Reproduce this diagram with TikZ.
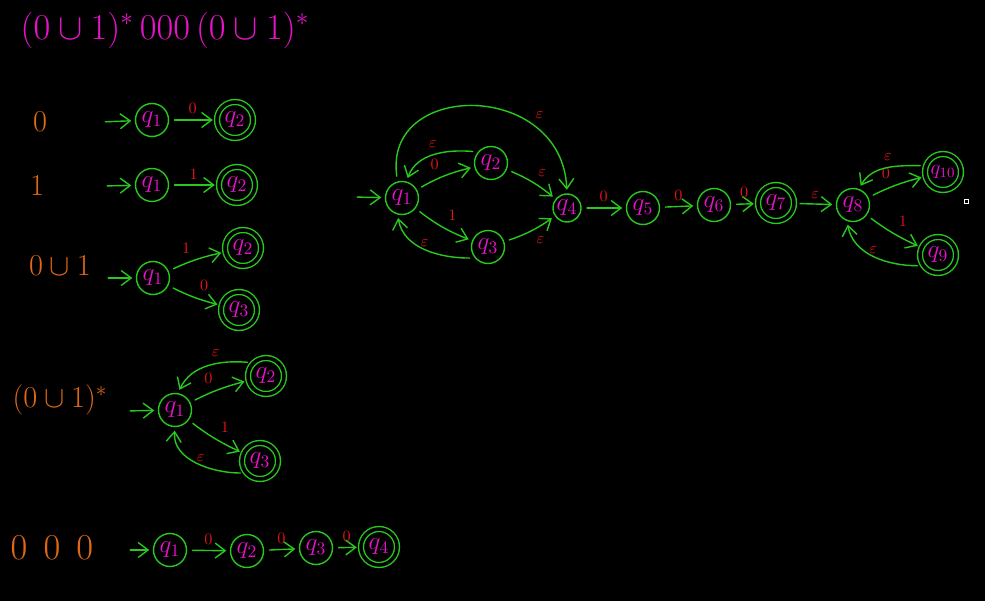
\documentclass[tikz,border=0pt]{standalone}
\usepackage{amsmath,amssymb}
\usepackage{tikz}
\usetikzlibrary{arrows.meta}
\usepackage{xcolor}
\definecolor{inkgreen}{RGB}{40,200,30}
\definecolor{inkpink}{RGB}{230,20,200}
\definecolor{inkred}{RGB}{225,20,20}
\definecolor{inkorange}{RGB}{225,105,20}

\begin{document}
\begin{tikzpicture}[x=0.02cm,y=0.02cm,>={Straight Barb[length=2mm,width=3mm]},line cap=round,
  st/.style={circle,draw=inkgreen,thick,minimum size=0.66cm,inner sep=0pt,text=inkpink,font=\Large},
  acc/.style={st,minimum size=0.72cm,double=black,double distance=2pt},
  ed/.style={->,draw=inkgreen,thick,shorten <=3pt,shorten >=2pt},
  lbl/.style={text=inkred,font=\small,inner sep=3pt},
  expr/.style={text=inkorange,font=\LARGE}]
\fill[black] (0,0) rectangle (985,-601);
\node[text=inkpink,font=\huge] (title) at (165,-30) {$(0\cup1)^{*}\,000\,(0\cup1)^{*}$};
% 0
\node[expr] (ea) at (40,-122) {$0$};
\node[st] (a1) at (152,-120) {$q_1$};
\node[acc] (a2) at (235,-120) {$q_2$};
\coordinate (sa) at (100,-122);
\draw[ed] (sa) -- (a1);
\draw[ed] (a1) -- node[lbl,above] (la) {0} (a2);
% 1
\node[expr] (eb) at (37,-186) {$1$};
\node[st] (b1) at (152,-185) {$q_1$};
\node[acc] (b2) at (237,-185) {$q_2$};
\coordinate (sb) at (102,-186);
\draw[ed] (sb) -- (b1);
\draw[ed] (b1) -- node[lbl,above] (lb) {1} (b2);
% 0 u 1
\node[expr] (ec) at (60,-266) {$0\cup1$};
\node[st] (c1) at (153,-278) {$q_1$};
\node[acc] (c2) at (243,-248) {$q_2$};
\node[acc] (c3) at (239,-310) {$q_3$};
\coordinate (sc) at (103,-278);
\draw[ed] (sc) -- (c1);
\draw[ed] (c1) to[bend left=6] node[lbl,above left] (lc1) {1} (c2);
\draw[ed] (c1) to[bend right=6] node[lbl,above right] (lc2) {0} (c3);
% (0 u 1)*
\node[expr] (ed) at (60,-400) {$(0\cup1)^{*}$};
\node[st] (d1) at (175,-410) {$q_1$};
\node[acc] (d2) at (266,-376) {$q_2$};
\node[acc] (d3) at (260,-461) {$q_3$};
\coordinate (sd) at (125,-411);
\draw[ed] (sd) -- (d1);
\draw[ed] (d1) to[bend left=6] node[lbl,above left] (ld1) {0} (d2);
\draw[ed] (d1) to[bend right=6] node[lbl,above right] (ld2) {1} (d3);
\draw[ed] (d2.135) to[out=175,in=65] node[lbl,above left,pos=0.3] (ld3) {$\varepsilon$} (d1.80);
\draw[ed] (d3.220) to[out=180,in=-95] node[lbl,above left,pos=0.35] (ld4) {$\varepsilon$} (d1.south);
% 000
\node[expr,font=\huge] (ee) at (52,-548) {$0\;\,0\;\,0$};
\node[st] (e1) at (170,-550) {$q_1$};
\node[st] (e2) at (247,-551) {$q_2$};
\node[st] (e3) at (316,-548) {$q_3$};
\node[acc] (e4) at (379,-547) {$q_4$};
\coordinate (se) at (125,-550);
\draw[ed] (se) -- (e1);
\draw[ed] (e1) -- node[lbl,above] (le1) {0} (e2);
\draw[ed] (e2) -- node[lbl,above] (le2) {0} (e3);
\draw[ed] (e3) -- node[lbl,above] (le3) {0} (e4);
% (0 u 1)* 000 (0 u 1)*
\node[st] (q1) at (402,-198) {$q_1$};
\node[st] (q2) at (491,-163) {$q_2$};
\node[st] (q3) at (488,-247) {$q_3$};
\node[st,minimum size=0.56cm] (q4) at (567,-208) {$q_4$};
\node[st] (q5) at (643,-208) {$q_5$};
\node[st] (q6) at (714,-205) {$q_6$};
\node[acc] (q7) at (776,-203) {$q_7$};
\node[st] (q8) at (853,-205) {$q_8$};
\node[acc,font=\large] (q10) at (943,-172) {$q_{10}$};
\node[acc] (q9) at (938,-255) {$q_9$};
\coordinate (sq) at (352,-197);
\draw[ed] (sq) -- (q1);
\draw[ed] (q1) to[bend left=8] node[lbl,above left] (lq1) {0} (q2);
\draw[ed] (q1) to[bend right=8] node[lbl,above right] (lq2) {1} (q3);
\draw[ed] (q2.140) to[out=175,in=70] node[lbl,above left,pos=0.4] (lq3) {$\varepsilon$} (q1.75);
\draw[ed] (q3.220) to[out=180,in=-80] node[lbl,above left,pos=0.4] (lq4) {$\varepsilon$} (q1.255);
\draw[ed] (q1.105) .. controls (383,-80) and (562,-80) .. node[lbl,pos=0.72,above right] (lq5) {$\varepsilon$} (q4.north);
\draw[ed] (q2) to[bend left=8] node[lbl,above right] (lq6) {$\varepsilon$} (q4);
\draw[ed] (q3) to[bend right=8] node[lbl,below right] (lq7) {$\varepsilon$} (q4);
\draw[ed] (q4) -- node[lbl,above] (lq8) {0} (q5);
\draw[ed] (q5) -- node[lbl,above] (lq9) {0} (q6);
\draw[ed] (q6) -- node[lbl,above] (lq10) {0} (q7);
\draw[ed] (q7) -- node[lbl,above] (lq11) {$\varepsilon$} (q8);
\draw[ed] (q8) to[bend left=6] node[lbl,above left] (lq12) {0} (q10);
\draw[ed] (q8) to[bend right=6] node[lbl,above right] (lq13) {1} (q9);
\draw[ed] (q10.160) to[out=180,in=60] node[lbl,above left,pos=0.35] (lq14) {$\varepsilon$} (q8.70);
\draw[ed] (q9.215) to[out=180,in=-80] node[lbl,above left,pos=0.4] (lq15) {$\varepsilon$} (q8.250);
\draw[white,thin] (964,-199) rectangle (968,-203);
\end{tikzpicture}
\end{document}
